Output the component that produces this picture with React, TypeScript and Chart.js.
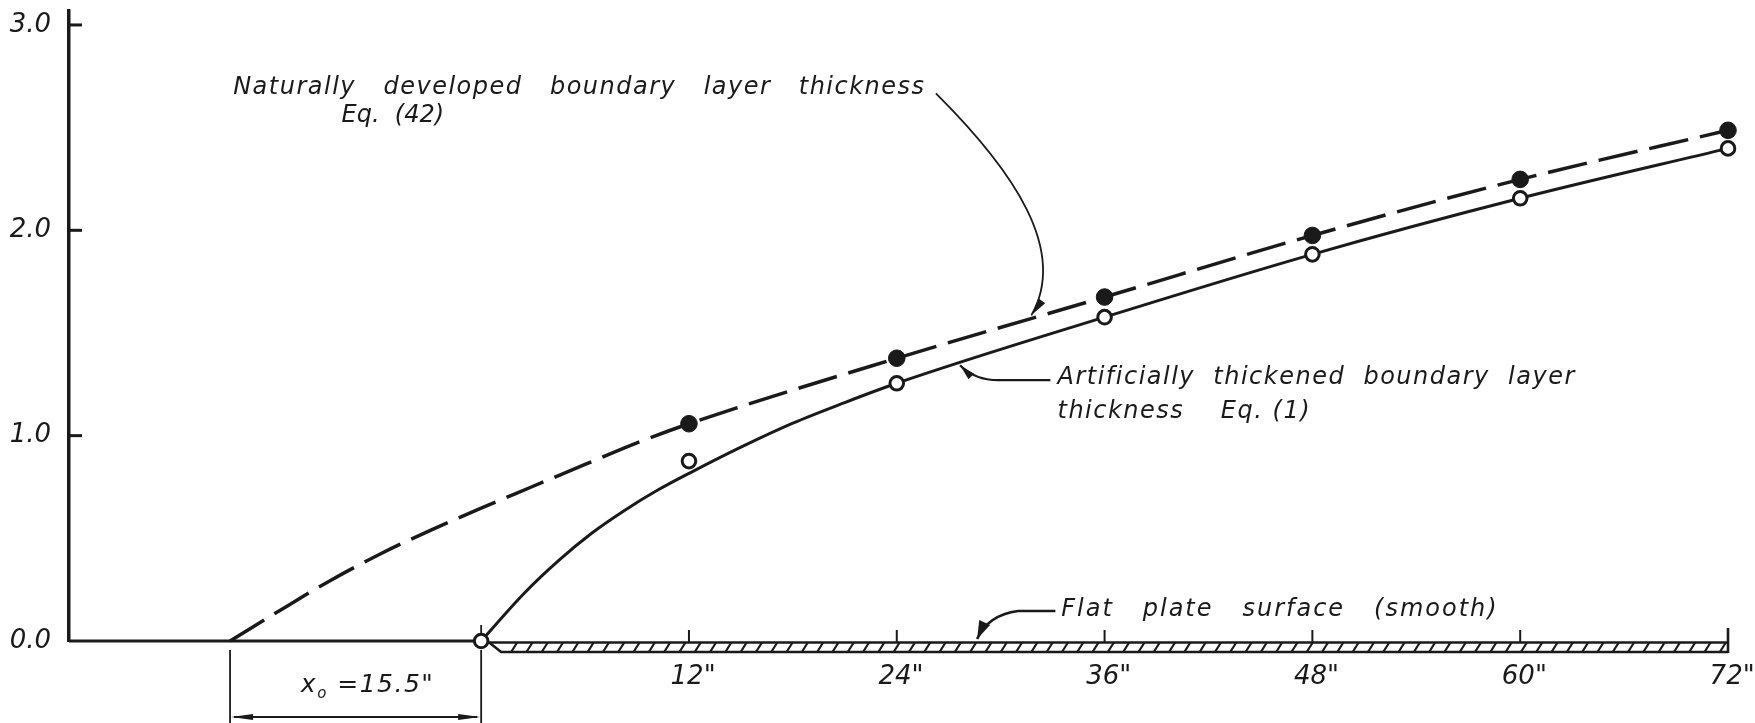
import React, { useEffect, useRef } from 'react';
import { Chart, registerables } from 'chart.js';

Chart.register(...registerables);

// ---- axis ranges / ticks ----
const X_MIN = -23.8;
const X_MAX = 72;
const Y_MIN = 0;
const Y_MAX = 3.068;
const Y_TICKS = [0, 1, 2, 3];
const X_TICKS = [12, 24, 36, 48, 60, 72];

// ---- geometry of the drawing (inches) ----
const X0_START = -14.5; // start of naturally developed layer (virtual origin)
const PLATE_START = 0;
const PLATE_END = 72;

// ---- measured points ----
const naturalStations = [12, 24, 36, 48, 60, 72];
const naturalMeasured = [1.058, 1.377, 1.675, 1.975, 2.248, 2.487];

const artificialStations = [0, 12, 24, 36, 48, 60, 72];
const artificialMeasured = [0, 0.876, 1.255, 1.577, 1.883, 2.156, 2.399];

// ---- curves ----
const naturalCurveX = [-14.5, -11.6, -8.7, -5.8, -2.9, 0, 2.9, 6, 9, 12, 24, 36, 48, 60, 72];
const naturalCurveY = [0, 0.15, 0.295, 0.425, 0.54, 0.647, 0.75, 0.86, 0.965, 1.058, 1.377, 1.675, 1.975, 2.248, 2.487];

const artificialCurveX = [0, 2.5, 4.5, 6.4, 8.3, 10.2, 12.2, 15, 18, 20.9, 24, 36, 48, 60, 72];
const artificialCurveY = [0, 0.234, 0.394, 0.526, 0.637, 0.735, 0.825, 0.944, 1.061, 1.158, 1.255, 1.577, 1.883, 2.156, 2.399];

const baselineX = [X_MIN, PLATE_START];
const baselineY = [0, 0];

// ---- annotation anchors (data units) ----
const naturalLabel = ['Naturally   developed   boundary   layer   thickness', 'Eq.  (42)'];
const naturalLabelPos = [[-14.32, 2.696], [-8.06, 2.56]];
const naturalArrow = [[26.26, 2.667], [30.72, 2.292], [33.91, 1.903], [31.77, 1.586]];

const artificialLabel = ['Artificially  thickened  boundary  layer', 'thickness    Eq. (1)'];
const artificialLabelPos = [[33.28, 1.28], [33.28, 1.114]];
const artificialArrow = [[32.87, 1.27], [29.86, 1.27], [28.52, 1.27], [27.65, 1.343]];

const flatLabel = 'Flat   plate   surface   (smooth)';
const flatLabelPos = [33.5, 0.151];
const flatArrow = [[33.16, 0.146], [31.0, 0.146], [29.28, 0.127], [28.64, 0.01]];

const X0_LABEL = ['x', 'o', ' =15.5"'];

const FONT = "'DejaVu Sans', sans-serif";
const INK = '#1a1a1a';

const pts = (xs: number[], ys: number[]) => xs.map((x, i) => ({ x, y: ys[i] }));

function arrowHead(ctx: CanvasRenderingContext2D, tx: number, ty: number, fx: number, fy: number, len: number, half: number) {
  const a = Math.atan2(ty - fy, tx - fx);
  const c = Math.cos(a), s = Math.sin(a);
  ctx.beginPath();
  ctx.moveTo(tx, ty);
  ctx.lineTo(tx - len * c + half * s, ty - len * s - half * c);
  ctx.lineTo(tx - len * c - half * s, ty - len * s + half * c);
  ctx.closePath();
  ctx.fill();
}

function line(ctx: CanvasRenderingContext2D, x1: number, y1: number, x2: number, y2: number) {
  ctx.beginPath();
  ctx.moveTo(x1, y1);
  ctx.lineTo(x2, y2);
  ctx.stroke();
}

const platePlugin = {
  id: 'plate',
  beforeDatasetsDraw(chart: any) {
    const { ctx } = chart;
    const X = chart.scales.x, Y = chart.scales.y;
    const xs = X.getPixelForValue(PLATE_START);
    const xe = X.getPixelForValue(PLATE_END);
    const y0 = Y.getPixelForValue(0);
    const top = y0 + 1.5, bot = y0 + 11;
    ctx.save();
    ctx.strokeStyle = INK;
    ctx.fillStyle = INK;
    ctx.lineWidth = 2.6;
    line(ctx, xs, top, xe, top);
    ctx.beginPath();
    ctx.moveTo(xs + 8, top);
    ctx.lineTo(xs + 20, bot);
    ctx.lineTo(xe, bot);
    ctx.stroke();
    line(ctx, xe, y0 - 13, xe, bot + 1);
    ctx.lineWidth = 2.2;
    for (let x = xs + 30; x < xe - 4; x += 15.3) line(ctx, x, bot, x + 6, top);
    ctx.lineWidth = 2;
    X_TICKS.forEach((v) => {
      if (v === PLATE_END) return;
      const px = X.getPixelForValue(v);
      line(ctx, px, y0 - 11, px, top);
    });
    // y axis inner ticks
    ctx.lineWidth = 3;
    Y_TICKS.forEach((v) => {
      if (v === 0) return;
      const py = Y.getPixelForValue(v);
      line(ctx, chart.chartArea.left, py, chart.chartArea.left + 13, py);
    });
    // dimension x0
    const xa = X.getPixelForValue(X0_START);
    const xb = X.getPixelForValue(PLATE_START);
    ctx.lineWidth = 1.8;
    line(ctx, xa, y0 + 9, xa, chart.height);
    line(ctx, xb, y0 + 9, xb, chart.height);
    line(ctx, xb, y0 - 16, xb, y0 - 8);
    const ya = y0 + 76;
    line(ctx, xa + 4, ya, xb - 4, ya);
    arrowHead(ctx, xa + 1, ya, xb, ya, 22, 3);
    arrowHead(ctx, xb - 1, ya, xa, ya, 22, 3);
    // label
    ctx.textBaseline = 'middle';
    ctx.textAlign = 'left';
    (ctx as any).letterSpacing = '1.5px';
    const big = `italic 25px ${FONT}`;
    const small = `italic 15px ${FONT}`;
    ctx.font = big;
    const w0 = ctx.measureText(X0_LABEL[0]).width;
    const w2 = ctx.measureText(X0_LABEL[2]).width;
    ctx.font = small;
    const w1 = ctx.measureText(X0_LABEL[1]).width;
    const total = w0 + w1 + w2;
    let lx = (xa + xb) / 2 + 12 - total / 2;
    const ly = y0 + 44;
    ctx.font = big;
    ctx.fillText(X0_LABEL[0], lx, ly);
    lx += w0;
    ctx.font = small;
    ctx.fillText(X0_LABEL[1], lx, ly + 9);
    lx += w1;
    ctx.font = big;
    ctx.fillText(X0_LABEL[2], lx, ly);
    ctx.restore();
  },
  afterDatasetsDraw(chart: any) {
    const { ctx } = chart;
    const X = chart.scales.x, Y = chart.scales.y;
    const P = (p: number[]) => [X.getPixelForValue(p[0]), Y.getPixelForValue(p[1])];
    ctx.save();
    ctx.fillStyle = INK;
    ctx.strokeStyle = INK;
    ctx.textBaseline = 'middle';
    ctx.textAlign = 'left';
    ctx.font = `italic 24px ${FONT}`;
    naturalLabel.forEach((t, i) => {
      (ctx as any).letterSpacing = i === 0 ? '1.5px' : '0px';
      const [x, y] = P(naturalLabelPos[i]);
      ctx.fillText(t, x, y);
    });
    (ctx as any).letterSpacing = '1.5px';
    artificialLabel.forEach((t, i) => {
      const [x, y] = P(artificialLabelPos[i]);
      ctx.fillText(t, x, y);
    });
    {
      (ctx as any).letterSpacing = '2px';
      const [x, y] = P(flatLabelPos);
      ctx.fillText(flatLabel, x, y);
    }
    (ctx as any).letterSpacing = '0px';
    // natural arrow (cubic)
    ctx.lineWidth = 1.8;
    {
      const [a, b, c, d] = naturalArrow.map(P);
      ctx.beginPath();
      ctx.moveTo(a[0], a[1]);
      ctx.bezierCurveTo(b[0], b[1], c[0], c[1], d[0], d[1]);
      ctx.stroke();
      arrowHead(ctx, d[0], d[1], c[0] - 4, c[1] + 20, 18, 4);
    }
    ctx.lineWidth = 2.2;
    {
      const [a, b, c, d] = artificialArrow.map(P);
      ctx.beginPath();
      ctx.moveTo(a[0], a[1]);
      ctx.lineTo(b[0], b[1]);
      ctx.quadraticCurveTo(c[0], c[1], d[0], d[1]);
      ctx.stroke();
      arrowHead(ctx, d[0], d[1], c[0], c[1], 16, 4);
    }
    ctx.lineWidth = 2.6;
    {
      const [a, b, c, d] = flatArrow.map(P);
      ctx.beginPath();
      ctx.moveTo(a[0], a[1]);
      ctx.lineTo(b[0], b[1]);
      ctx.quadraticCurveTo(c[0], c[1], d[0], d[1]);
      ctx.stroke();
      arrowHead(ctx, d[0], d[1], c[0], c[1], 18, 6);
    }
    ctx.restore();
  },
};

export default function App() {
  const ref = useRef<HTMLCanvasElement>(null);
  useEffect(() => {
    document.body.style.margin = '0';
    const tickFont = { family: FONT, style: 'italic' as const, size: 26 };
    const chart = new Chart(ref.current as HTMLCanvasElement, {
      type: 'scatter',
      data: {
        datasets: [
          {
            label: 'natural measured',
            data: pts(naturalStations, naturalMeasured),
            pointRadius: 8.3,
            pointBackgroundColor: INK,
            pointBorderColor: INK,
            pointBorderWidth: 1,
            showLine: false,
            clip: false,
            order: 0,
          },
          {
            label: 'artificial measured',
            data: pts(artificialStations, artificialMeasured),
            pointRadius: 6.8,
            pointBackgroundColor: '#ffffff',
            pointBorderColor: INK,
            pointBorderWidth: 3,
            showLine: false,
            clip: false,
            order: 1,
          },
          {
            label: 'Naturally developed (Eq. 42)',
            data: pts(naturalCurveX, naturalCurveY),
            showLine: true,
            borderColor: INK,
            borderWidth: 3.5,
            borderDash: [40, 12],
            pointRadius: 0,
            cubicInterpolationMode: 'monotone',
            clip: false,
            order: 3,
          },
          {
            label: 'Artificially thickened (Eq. 1)',
            data: pts(artificialCurveX, artificialCurveY),
            showLine: true,
            borderColor: INK,
            borderWidth: 3,
            pointRadius: 0,
            cubicInterpolationMode: 'monotone',
            clip: false,
            order: 3,
          },
          {
            label: 'baseline',
            data: pts(baselineX, baselineY),
            showLine: true,
            borderColor: INK,
            borderWidth: 3,
            pointRadius: 0,
            clip: false,
            order: 4,
          },
        ],
      },
      options: {
        responsive: false,
        animation: false,
        devicePixelRatio: 1,
        layout: { padding: { left: 0, right: 27, top: 11, bottom: 0 } },
        plugins: { legend: { display: false }, tooltip: { enabled: false } },
        scales: {
          x: {
            type: 'linear',
            min: X_MIN,
            max: X_MAX,
            afterBuildTicks: (s: any) => {
              s.ticks = X_TICKS.map((v) => ({ value: v }));
            },
            afterFit: (s: any) => {
              s.height = 82;
              s.paddingLeft = 0;
              s.paddingRight = 0;
            },
            grid: { display: false, drawTicks: false },
            border: { display: false },
            ticks: {
              padding: 21,
              maxRotation: 0,
              autoSkip: false,
              color: INK,
              font: tickFont,
              callback: (v: any) => ` ${v}"`,
            },
          },
          y: {
            type: 'linear',
            min: Y_MIN,
            max: Y_MAX,
            afterBuildTicks: (s: any) => {
              s.ticks = Y_TICKS.map((v) => ({ value: v }));
            },
            afterFit: (s: any) => {
              s.width = 69;
              s.paddingTop = 0;
              s.paddingBottom = 0;
            },
            grid: { display: false, drawTicks: false },
            border: { display: true, color: INK, width: 3.5 },
            ticks: {
              padding: 18,
              color: INK,
              font: tickFont,
              callback: (v: any) => Number(v).toFixed(1),
            },
          },
        },
      },
      plugins: [platePlugin],
    });
    return () => chart.destroy();
  }, []);
  return (
    <div style={{ position: 'absolute', left: 0, top: 0, width: 1755, height: 723, background: '#ffffff' }}>
      <canvas ref={ref} width={1755} height={723} style={{ display: 'block', width: 1755, height: 723 }} />
    </div>
  );
}
